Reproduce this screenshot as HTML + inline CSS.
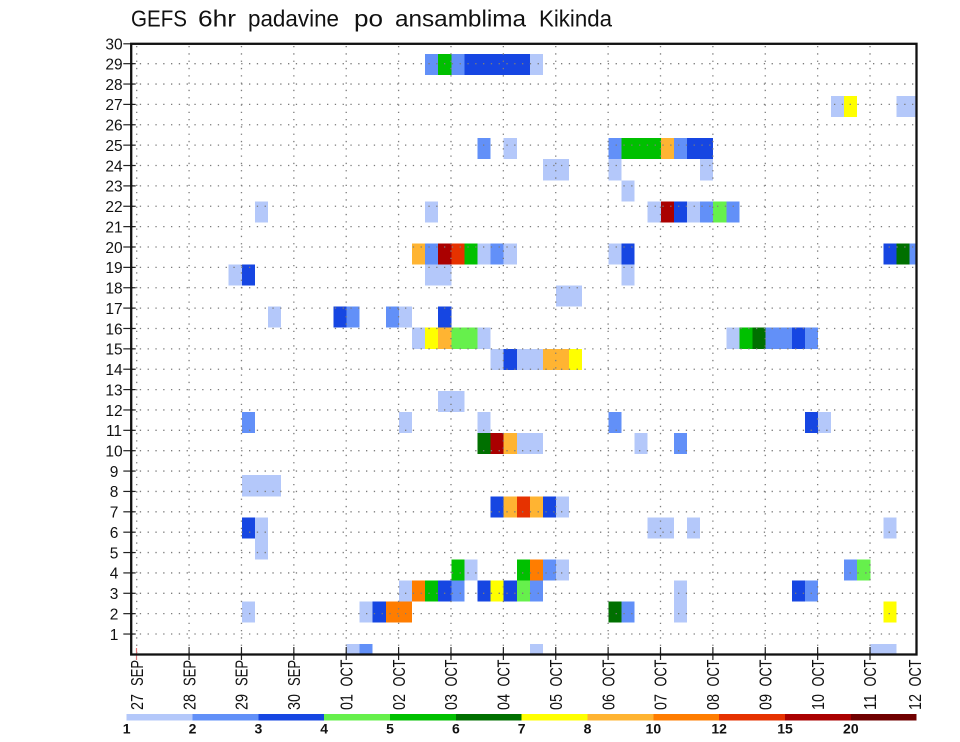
<!DOCTYPE html>
<html><head><meta charset="utf-8"><style>
html,body{margin:0;padding:0;background:#fff;}
svg{display:block;}
.L{fill:#b4c8fa}.M{fill:#6290f8}.D{fill:#1646e2}.LG{fill:#66f04c}.G{fill:#00c000}.DG{fill:#007000}
.Y{fill:#ffff00}.O8{fill:#ffb432}.O10{fill:#ff7d00}.R{fill:#e63200}.DR{fill:#aa0000}.DDR{fill:#700000}
text{font-family:"Liberation Sans",sans-serif;fill:#111;}
</style></head><body>
<svg width="960" height="742" viewBox="0 0 960 742" xmlns="http://www.w3.org/2000/svg">
<rect x="0" y="0" width="960" height="742" fill="#fff"/>
<!-- title -->
<g font-size="23">
<text x="131" y="26.7" textLength="56" lengthAdjust="spacingAndGlyphs">GEFS</text>
<text x="198" y="26.7" textLength="38" lengthAdjust="spacingAndGlyphs">6hr</text>
<text x="248" y="26.7" textLength="91" lengthAdjust="spacingAndGlyphs">padavine</text>
<text x="354" y="26.7" textLength="29" lengthAdjust="spacingAndGlyphs">po</text>
<text x="395" y="26.7" textLength="131" lengthAdjust="spacingAndGlyphs">ansamblima</text>
<text x="539" y="26.7" textLength="73" lengthAdjust="spacingAndGlyphs">Kikinda</text>
</g>
<defs><clipPath id="pc"><rect x="131.2" y="43.8" width="785.3" height="610.7"/></clipPath></defs>
<g clip-path="url(#pc)">
<g transform="translate(137,32.765) scale(13.095,21.07)" shape-rendering="crispEdges">
<rect class="M" x="22" y="1" width="1" height="1"/><rect class="G" x="23" y="1" width="1" height="1"/><rect class="M" x="24" y="1" width="1" height="1"/><rect class="D" x="25" y="1" width="5" height="1"/><rect class="L" x="30" y="1" width="1" height="1"/>
<rect class="L" x="53" y="3" width="1" height="1"/><rect class="Y" x="54" y="3" width="1" height="1"/><rect class="L" x="58" y="3" width="2" height="1"/>
<rect class="M" x="26" y="5" width="1" height="1"/><rect class="L" x="28" y="5" width="1" height="1"/><rect class="M" x="36" y="5" width="1" height="1"/><rect class="G" x="37" y="5" width="3" height="1"/><rect class="O8" x="40" y="5" width="1" height="1"/><rect class="M" x="41" y="5" width="1" height="1"/><rect class="D" x="42" y="5" width="2" height="1"/>
<rect class="L" x="31" y="6" width="2" height="1"/><rect class="L" x="36" y="6" width="1" height="1"/><rect class="L" x="43" y="6" width="1" height="1"/>
<rect class="L" x="37" y="7" width="1" height="1"/>
<rect class="L" x="9" y="8" width="1" height="1"/><rect class="L" x="22" y="8" width="1" height="1"/><rect class="L" x="39" y="8" width="1" height="1"/><rect class="DR" x="40" y="8" width="1" height="1"/><rect class="D" x="41" y="8" width="1" height="1"/><rect class="L" x="42" y="8" width="1" height="1"/><rect class="M" x="43" y="8" width="1" height="1"/><rect class="LG" x="44" y="8" width="1" height="1"/><rect class="M" x="45" y="8" width="1" height="1"/>
<rect class="O8" x="21" y="10" width="1" height="1"/><rect class="M" x="22" y="10" width="1" height="1"/><rect class="DR" x="23" y="10" width="1" height="1"/><rect class="R" x="24" y="10" width="1" height="1"/><rect class="G" x="25" y="10" width="1" height="1"/><rect class="L" x="26" y="10" width="1" height="1"/><rect class="M" x="27" y="10" width="1" height="1"/><rect class="L" x="28" y="10" width="1" height="1"/><rect class="L" x="36" y="10" width="1" height="1"/><rect class="D" x="37" y="10" width="1" height="1"/><rect class="D" x="57" y="10" width="1" height="1"/><rect class="DG" x="58" y="10" width="1" height="1"/><rect class="M" x="59" y="10" width="1" height="1"/>
<rect class="L" x="7" y="11" width="1" height="1"/><rect class="D" x="8" y="11" width="1" height="1"/><rect class="L" x="22" y="11" width="2" height="1"/><rect class="L" x="37" y="11" width="1" height="1"/>
<rect class="L" x="32" y="12" width="2" height="1"/>
<rect class="L" x="10" y="13" width="1" height="1"/><rect class="D" x="15" y="13" width="1" height="1"/><rect class="M" x="16" y="13" width="1" height="1"/><rect class="M" x="19" y="13" width="1" height="1"/><rect class="L" x="20" y="13" width="1" height="1"/><rect class="D" x="23" y="13" width="1" height="1"/>
<rect class="L" x="21" y="14" width="1" height="1"/><rect class="Y" x="22" y="14" width="1" height="1"/><rect class="O8" x="23" y="14" width="1" height="1"/><rect class="LG" x="24" y="14" width="2" height="1"/><rect class="L" x="26" y="14" width="1" height="1"/><rect class="L" x="45" y="14" width="1" height="1"/><rect class="G" x="46" y="14" width="1" height="1"/><rect class="DG" x="47" y="14" width="1" height="1"/><rect class="M" x="48" y="14" width="2" height="1"/><rect class="D" x="50" y="14" width="1" height="1"/><rect class="M" x="51" y="14" width="1" height="1"/>
<rect class="L" x="27" y="15" width="1" height="1"/><rect class="D" x="28" y="15" width="1" height="1"/><rect class="L" x="29" y="15" width="2" height="1"/><rect class="O8" x="31" y="15" width="2" height="1"/><rect class="Y" x="33" y="15" width="1" height="1"/>
<rect class="L" x="23" y="17" width="2" height="1"/>
<rect class="M" x="8" y="18" width="1" height="1"/><rect class="L" x="20" y="18" width="1" height="1"/><rect class="L" x="26" y="18" width="1" height="1"/><rect class="M" x="36" y="18" width="1" height="1"/><rect class="D" x="51" y="18" width="1" height="1"/><rect class="L" x="52" y="18" width="1" height="1"/>
<rect class="DG" x="26" y="19" width="1" height="1"/><rect class="DR" x="27" y="19" width="1" height="1"/><rect class="O8" x="28" y="19" width="1" height="1"/><rect class="L" x="29" y="19" width="2" height="1"/><rect class="L" x="38" y="19" width="1" height="1"/><rect class="M" x="41" y="19" width="1" height="1"/>
<rect class="L" x="8" y="21" width="3" height="1"/>
<rect class="D" x="27" y="22" width="1" height="1"/><rect class="O8" x="28" y="22" width="1" height="1"/><rect class="R" x="29" y="22" width="1" height="1"/><rect class="O8" x="30" y="22" width="1" height="1"/><rect class="D" x="31" y="22" width="1" height="1"/><rect class="L" x="32" y="22" width="1" height="1"/>
<rect class="D" x="8" y="23" width="1" height="1"/><rect class="L" x="9" y="23" width="1" height="2"/><rect class="L" x="39" y="23" width="2" height="1"/><rect class="L" x="42" y="23" width="1" height="1"/><rect class="L" x="57" y="23" width="1" height="1"/>
<rect class="G" x="24" y="25" width="1" height="1"/><rect class="L" x="25" y="25" width="1" height="1"/><rect class="G" x="29" y="25" width="1" height="1"/><rect class="O10" x="30" y="25" width="1" height="1"/><rect class="M" x="31" y="25" width="1" height="1"/><rect class="L" x="32" y="25" width="1" height="1"/><rect class="M" x="54" y="25" width="1" height="1"/><rect class="LG" x="55" y="25" width="1" height="1"/>
<rect class="L" x="20" y="26" width="1" height="1"/><rect class="O10" x="21" y="26" width="1" height="1"/><rect class="G" x="22" y="26" width="1" height="1"/><rect class="D" x="23" y="26" width="1" height="1"/><rect class="M" x="24" y="26" width="1" height="1"/><rect class="D" x="26" y="26" width="1" height="1"/><rect class="Y" x="27" y="26" width="1" height="1"/><rect class="D" x="28" y="26" width="1" height="1"/><rect class="LG" x="29" y="26" width="1" height="1"/><rect class="M" x="30" y="26" width="1" height="1"/><rect class="L" x="41" y="26" width="1" height="2"/><rect class="D" x="50" y="26" width="1" height="1"/><rect class="M" x="51" y="26" width="1" height="1"/>
<rect class="L" x="8" y="27" width="1" height="1"/><rect class="L" x="17" y="27" width="1" height="1"/><rect class="D" x="18" y="27" width="1" height="1"/><rect class="O10" x="19" y="27" width="2" height="1"/><rect class="DG" x="36" y="27" width="1" height="1"/><rect class="M" x="37" y="27" width="1" height="1"/><rect class="Y" x="57" y="27" width="1" height="1"/>
<rect class="L" x="16" y="29" width="1" height="1"/><rect class="M" x="17" y="29" width="1" height="1"/><rect class="L" x="30" y="29" width="1" height="1"/><rect class="L" x="56" y="29" width="2" height="1"/>
</g>
</g>
<!-- grid -->
<g stroke="#7c7c7c" stroke-width="1.3" stroke-dasharray="1.3 6.5" fill="none">
<line x1="132" x2="916" y1="634.03" y2="634.03"/><line x1="132" x2="916" y1="613.66" y2="613.66"/><line x1="132" x2="916" y1="593.29" y2="593.29"/><line x1="132" x2="916" y1="572.92" y2="572.92"/><line x1="132" x2="916" y1="552.55" y2="552.55"/><line x1="132" x2="916" y1="532.18" y2="532.18"/><line x1="132" x2="916" y1="511.81" y2="511.81"/><line x1="132" x2="916" y1="491.44" y2="491.44"/><line x1="132" x2="916" y1="471.07" y2="471.07"/><line x1="132" x2="916" y1="450.7" y2="450.7"/><line x1="132" x2="916" y1="430.33" y2="430.33"/><line x1="132" x2="916" y1="409.96" y2="409.96"/><line x1="132" x2="916" y1="389.59" y2="389.59"/><line x1="132" x2="916" y1="369.22" y2="369.22"/><line x1="132" x2="916" y1="348.85" y2="348.85"/><line x1="132" x2="916" y1="328.48" y2="328.48"/><line x1="132" x2="916" y1="308.11" y2="308.11"/><line x1="132" x2="916" y1="287.74" y2="287.74"/><line x1="132" x2="916" y1="267.37" y2="267.37"/><line x1="132" x2="916" y1="247" y2="247"/><line x1="132" x2="916" y1="226.63" y2="226.63"/><line x1="132" x2="916" y1="206.26" y2="206.26"/><line x1="132" x2="916" y1="185.89" y2="185.89"/><line x1="132" x2="916" y1="165.52" y2="165.52"/><line x1="132" x2="916" y1="145.15" y2="145.15"/><line x1="132" x2="916" y1="124.78" y2="124.78"/><line x1="132" x2="916" y1="104.41" y2="104.41"/><line x1="132" x2="916" y1="84.04" y2="84.04"/><line x1="132" x2="916" y1="63.67" y2="63.67"/>
</g>
<g stroke="#7c7c7c" stroke-width="1.3" stroke-dasharray="1.3 6" fill="none">
<line y1="46" y2="653" x1="136.7" x2="136.7"/><line y1="46" y2="653" x1="189.08" x2="189.08"/><line y1="46" y2="653" x1="241.46" x2="241.46"/><line y1="46" y2="653" x1="293.84" x2="293.84"/><line y1="46" y2="653" x1="346.22" x2="346.22"/><line y1="46" y2="653" x1="398.6" x2="398.6"/><line y1="46" y2="653" x1="450.98" x2="450.98"/><line y1="46" y2="653" x1="503.36" x2="503.36"/><line y1="46" y2="653" x1="555.74" x2="555.74"/><line y1="46" y2="653" x1="608.12" x2="608.12"/><line y1="46" y2="653" x1="660.5" x2="660.5"/><line y1="46" y2="653" x1="712.88" x2="712.88"/><line y1="46" y2="653" x1="765.26" x2="765.26"/><line y1="46" y2="653" x1="817.64" x2="817.64"/><line y1="46" y2="653" x1="870.02" x2="870.02"/>
</g>
<!-- y ticks -->
<g stroke="#222" stroke-width="1.2">
<line x1="123.3" x2="135.7" y1="634.03" y2="634.03"/><line x1="123.3" x2="135.7" y1="613.66" y2="613.66"/><line x1="123.3" x2="135.7" y1="593.29" y2="593.29"/><line x1="123.3" x2="135.7" y1="572.92" y2="572.92"/><line x1="123.3" x2="135.7" y1="552.55" y2="552.55"/><line x1="123.3" x2="135.7" y1="532.18" y2="532.18"/><line x1="123.3" x2="135.7" y1="511.81" y2="511.81"/><line x1="123.3" x2="135.7" y1="491.44" y2="491.44"/><line x1="123.3" x2="135.7" y1="471.07" y2="471.07"/><line x1="123.3" x2="135.7" y1="450.7" y2="450.7"/><line x1="123.3" x2="135.7" y1="430.33" y2="430.33"/><line x1="123.3" x2="135.7" y1="409.96" y2="409.96"/><line x1="123.3" x2="135.7" y1="389.59" y2="389.59"/><line x1="123.3" x2="135.7" y1="369.22" y2="369.22"/><line x1="123.3" x2="135.7" y1="348.85" y2="348.85"/><line x1="123.3" x2="135.7" y1="328.48" y2="328.48"/><line x1="123.3" x2="135.7" y1="308.11" y2="308.11"/><line x1="123.3" x2="135.7" y1="287.74" y2="287.74"/><line x1="123.3" x2="135.7" y1="267.37" y2="267.37"/><line x1="123.3" x2="135.7" y1="247" y2="247"/><line x1="123.3" x2="135.7" y1="226.63" y2="226.63"/><line x1="123.3" x2="135.7" y1="206.26" y2="206.26"/><line x1="123.3" x2="135.7" y1="185.89" y2="185.89"/><line x1="123.3" x2="135.7" y1="165.52" y2="165.52"/><line x1="123.3" x2="135.7" y1="145.15" y2="145.15"/><line x1="123.3" x2="135.7" y1="124.78" y2="124.78"/><line x1="123.3" x2="135.7" y1="104.41" y2="104.41"/><line x1="123.3" x2="135.7" y1="84.04" y2="84.04"/><line x1="123.3" x2="135.7" y1="63.67" y2="63.67"/><line x1="123.3" x2="135.7" y1="43.8" y2="43.8"/>
</g>
<!-- x ticks -->
<g stroke="#222" stroke-width="1.2">
<line x1="189.08" x2="189.08" y1="647" y2="660"/><line x1="241.46" x2="241.46" y1="647" y2="660"/><line x1="293.84" x2="293.84" y1="647" y2="660"/><line x1="346.22" x2="346.22" y1="647" y2="660"/><line x1="398.6" x2="398.6" y1="647" y2="660"/><line x1="450.98" x2="450.98" y1="647" y2="660"/><line x1="503.36" x2="503.36" y1="647" y2="660"/><line x1="555.74" x2="555.74" y1="647" y2="660"/><line x1="608.12" x2="608.12" y1="647" y2="660"/><line x1="660.5" x2="660.5" y1="647" y2="660"/><line x1="712.88" x2="712.88" y1="647" y2="660"/><line x1="765.26" x2="765.26" y1="647" y2="660"/><line x1="817.64" x2="817.64" y1="647" y2="660"/><line x1="870.02" x2="870.02" y1="647" y2="660"/>
</g>
<line x1="136.5" x2="136.5" y1="648" y2="660" stroke="#e07878" stroke-width="1.2"/>
<!-- frame -->
<rect x="131.2" y="43.8" width="785.3" height="610.7" fill="none" stroke="#111" stroke-width="2.3"/>
<!-- y labels -->
<g font-size="15.5" text-anchor="middle">
<text x="114" y="639.8">1</text><text x="114" y="619.5">2</text><text x="114" y="599.1">3</text><text x="114" y="578.7">4</text><text x="114" y="558.4">5</text><text x="114" y="538">6</text><text x="114" y="517.6">7</text><text x="114" y="497.2">8</text><text x="114" y="476.9">9</text><text x="114" y="456.5">10</text><text x="114" y="436.1">11</text><text x="114" y="415.8">12</text><text x="114" y="395.4">13</text><text x="114" y="375">14</text><text x="114" y="354.7">15</text><text x="114" y="334.3">16</text><text x="114" y="313.9">17</text><text x="114" y="293.5">18</text><text x="114" y="273.2">19</text><text x="114" y="252.8">20</text><text x="114" y="232.4">21</text><text x="114" y="212.1">22</text><text x="114" y="191.7">23</text><text x="114" y="171.3">24</text><text x="114" y="150.9">25</text><text x="114" y="130.6">26</text><text x="114" y="110.2">27</text><text x="114" y="89.8">28</text><text x="114" y="69.5">29</text><text x="114" y="49.6">30</text>
</g>
<!-- x labels -->
<g font-size="17.5">
<g transform="translate(142.9,0) rotate(-90)"><text x="-686" y="0" textLength="26" lengthAdjust="spacingAndGlyphs">SEP</text><text x="-710" y="0" textLength="16" lengthAdjust="spacingAndGlyphs">27</text></g>
<g transform="translate(195.3,0) rotate(-90)"><text x="-686" y="0" textLength="26" lengthAdjust="spacingAndGlyphs">SEP</text><text x="-710" y="0" textLength="16" lengthAdjust="spacingAndGlyphs">28</text></g>
<g transform="translate(247.7,0) rotate(-90)"><text x="-686" y="0" textLength="26" lengthAdjust="spacingAndGlyphs">SEP</text><text x="-710" y="0" textLength="16" lengthAdjust="spacingAndGlyphs">29</text></g>
<g transform="translate(300.0,0) rotate(-90)"><text x="-686" y="0" textLength="26" lengthAdjust="spacingAndGlyphs">SEP</text><text x="-710" y="0" textLength="16" lengthAdjust="spacingAndGlyphs">30</text></g>
<g transform="translate(352.4,0) rotate(-90)"><text x="-686.5" y="0" textLength="27" lengthAdjust="spacingAndGlyphs">OCT</text><text x="-710" y="0" textLength="16" lengthAdjust="spacingAndGlyphs">01</text></g>
<g transform="translate(404.8,0) rotate(-90)"><text x="-686.5" y="0" textLength="27" lengthAdjust="spacingAndGlyphs">OCT</text><text x="-710" y="0" textLength="16" lengthAdjust="spacingAndGlyphs">02</text></g>
<g transform="translate(457.2,0) rotate(-90)"><text x="-686.5" y="0" textLength="27" lengthAdjust="spacingAndGlyphs">OCT</text><text x="-710" y="0" textLength="16" lengthAdjust="spacingAndGlyphs">03</text></g>
<g transform="translate(509.6,0) rotate(-90)"><text x="-686.5" y="0" textLength="27" lengthAdjust="spacingAndGlyphs">OCT</text><text x="-710" y="0" textLength="16" lengthAdjust="spacingAndGlyphs">04</text></g>
<g transform="translate(561.9,0) rotate(-90)"><text x="-686.5" y="0" textLength="27" lengthAdjust="spacingAndGlyphs">OCT</text><text x="-710" y="0" textLength="16" lengthAdjust="spacingAndGlyphs">05</text></g>
<g transform="translate(614.3,0) rotate(-90)"><text x="-686.5" y="0" textLength="27" lengthAdjust="spacingAndGlyphs">OCT</text><text x="-710" y="0" textLength="16" lengthAdjust="spacingAndGlyphs">06</text></g>
<g transform="translate(666.7,0) rotate(-90)"><text x="-686.5" y="0" textLength="27" lengthAdjust="spacingAndGlyphs">OCT</text><text x="-710" y="0" textLength="16" lengthAdjust="spacingAndGlyphs">07</text></g>
<g transform="translate(719.1,0) rotate(-90)"><text x="-686.5" y="0" textLength="27" lengthAdjust="spacingAndGlyphs">OCT</text><text x="-710" y="0" textLength="16" lengthAdjust="spacingAndGlyphs">08</text></g>
<g transform="translate(771.5,0) rotate(-90)"><text x="-686.5" y="0" textLength="27" lengthAdjust="spacingAndGlyphs">OCT</text><text x="-710" y="0" textLength="16" lengthAdjust="spacingAndGlyphs">09</text></g>
<g transform="translate(823.8,0) rotate(-90)"><text x="-686.5" y="0" textLength="27" lengthAdjust="spacingAndGlyphs">OCT</text><text x="-710" y="0" textLength="16" lengthAdjust="spacingAndGlyphs">10</text></g>
<g transform="translate(876.2,0) rotate(-90)"><text x="-686.5" y="0" textLength="27" lengthAdjust="spacingAndGlyphs">OCT</text><text x="-710" y="0" textLength="16" lengthAdjust="spacingAndGlyphs">11</text></g>
<g transform="translate(921.2,0) rotate(-90)"><text x="-686.5" y="0" textLength="27" lengthAdjust="spacingAndGlyphs">OCT</text><text x="-710" y="0" textLength="16" lengthAdjust="spacingAndGlyphs">12</text></g>
</g>
<!-- colorbar -->
<g transform="translate(126.7,714) scale(65.83,1)" shape-rendering="crispEdges">
<rect class="L" x="0" y="0" width="1.01" height="6.7"/><rect class="M" x="1" y="0" width="1.01" height="6.7"/><rect class="D" x="2" y="0" width="1.01" height="6.7"/><rect class="LG" x="3" y="0" width="1.01" height="6.7"/><rect class="G" x="4" y="0" width="1.01" height="6.7"/><rect class="DG" x="5" y="0" width="1.01" height="6.7"/><rect class="Y" x="6" y="0" width="1.01" height="6.7"/><rect class="O8" x="7" y="0" width="1.01" height="6.7"/><rect class="O10" x="8" y="0" width="1.01" height="6.7"/><rect class="R" x="9" y="0" width="1.01" height="6.7"/><rect class="DR" x="10" y="0" width="1.01" height="6.7"/><rect class="DDR" x="11" y="0" width="1" height="6.7"/>
</g>
<g font-size="14" font-weight="bold" text-anchor="middle">
<text x="126.7" y="733.6">1</text><text x="192.53" y="733.6">2</text><text x="258.36" y="733.6">3</text><text x="324.19" y="733.6">4</text><text x="390.02" y="733.6">5</text><text x="455.85" y="733.6">6</text><text x="521.68" y="733.6">7</text><text x="587.51" y="733.6">8</text><text x="653.34" y="733.6">10</text><text x="719.17" y="733.6">12</text><text x="785" y="733.6">15</text><text x="850.83" y="733.6">20</text>
</g>
</svg>
</body></html>
